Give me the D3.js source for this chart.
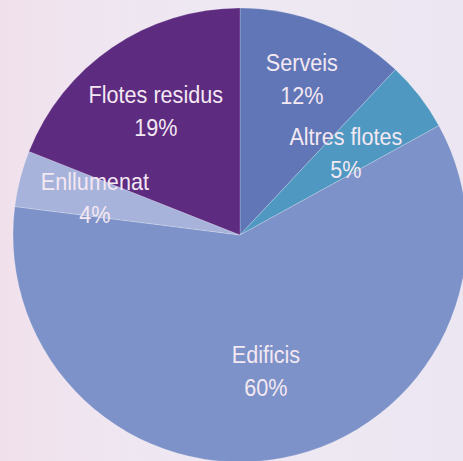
<!DOCTYPE html>
<html>
<head>
<meta charset="utf-8">
<script src="https://cdn.jsdelivr.net/npm/d3@7"></script>
<style>
  html, body { margin: 0; padding: 0; background: #ece6f0; }
  svg { display: block; }
</style>
</head>
<body>
<script>
// data, clockwise from 12 o'clock
const categories = ["Serveis", "Altres flotes", "Edificis", "Enllumenat", "Flotes residus"];
const values = [12, 5, 60, 4, 19];
const sliceColors = ["#6176b6", "#4f98c2", "#7d92c8", "#a7b3db", "#5d2b80"];

const width = 463, height = 461;
const cx = 240, cy = 235, radius = 227;
// how far out each label sits (fraction of radius)
const labelFactor = { "Serveis": 0.74, "Altres flotes": 0.59, "Edificis": 0.61, "Enllumenat": 0.66, "Flotes residus": 0.66 };

const data = categories.map((c, i) => ({ name: c, value: values[i], color: sliceColors[i] }));

const svg = d3.select("body").append("svg")
    .attr("width", width)
    .attr("height", height);

// background with a faint tint
const bg = svg.append("g").attr("class", "bg");
bg.append("rect").attr("width", width).attr("height", height).attr("fill", "#eee8f2");
const grad = svg.append("defs").append("linearGradient").attr("id", "bgtint")
    .attr("x1", 0).attr("x2", 1).attr("y1", 0).attr("y2", 0);
grad.append("stop").attr("offset", 0).attr("stop-color", "#f3dbe8").attr("stop-opacity", 0.6);
grad.append("stop").attr("offset", 0.5).attr("stop-color", "#eee8f2").attr("stop-opacity", 0);
grad.append("stop").attr("offset", 1).attr("stop-color", "#e8e4f2").attr("stop-opacity", 0.5);
bg.append("rect").attr("width", width).attr("height", height).attr("fill", "url(#bgtint)");

const g = svg.append("g")
    .attr("transform", "translate(" + cx + "," + cy + ")");

const pie = d3.pie().sort(null).value(d => d.value);
const arc = d3.arc().innerRadius(0).outerRadius(radius);

const arcs = pie(data);

g.selectAll(".slice")
    .data(arcs)
    .enter().append("path")
    .attr("class", "slice")
    .attr("d", arc)
    .attr("fill", d => d.data.color)
    .attr("stroke", "rgba(255,255,255,0.35)")
    .attr("stroke-width", 0.6);

// condensed look: plain sans squeezed horizontally
const labels = g.selectAll(".label")
    .data(arcs)
    .enter().append("text")
    .attr("class", "label")
    .attr("transform", d => {
        const r = radius * labelFactor[d.data.name];
        const a = (d.startAngle + d.endAngle) / 2;
        return "translate(" + (Math.sin(a) * r) + "," + (-Math.cos(a) * r) + ") scale(0.9,1)";
    })
    .attr("text-anchor", "middle")
    .attr("font-family", "'Liberation Sans', Arial, sans-serif")
    .attr("font-size", 24)
    .attr("fill", "#f4e8f2");

labels.append("tspan")
    .attr("x", 0)
    .attr("y", -8)
    .text(d => d.data.name);

labels.append("tspan")
    .attr("x", 0)
    .attr("y", 25)
    .text(d => d.data.value + "%");
</script>
</body>
</html>
